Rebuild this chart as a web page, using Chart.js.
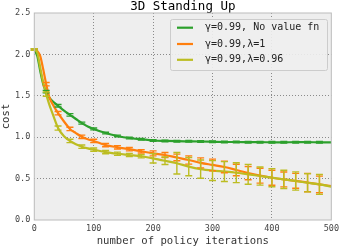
<!DOCTYPE html>
<html>
<head>
<meta charset="utf-8">
<script src="https://cdn.jsdelivr.net/npm/chart.js@4/dist/chart.umd.min.js"></script>
<style>
html,body{margin:0;padding:0;background:#fff;}
#wrap{width:343px;height:248px;position:relative;}
</style>
</head>
<body>
<div id="wrap"><canvas id="c" width="343" height="248"></canvas></div>
<script>
const titleText = "3D Standing Up";
const xLabel = "number of policy iterations";
const yLabel = "cost";
const seriesLabels = ["\u03b3=0.99, No value fn", "\u03b3=0.99,\u03bb=1", "\u03b3=0.99,\u03bb=0.96"];
const seriesColors = ["#2ca02c", "#ff7f0e", "#bcbd22"];

const iters = [0,5,10,15,20,25,30,40,50,60,70,80,90,100,120,140,160,180,200,220,240,260,280,300,320,340,360,380,400,420,440,460,480,500];
const noValueFn = [2.06,1.98,1.80,1.64,1.55,1.48,1.44,1.38,1.32,1.27,1.22,1.17,1.13,1.10,1.05,1.015,0.99,0.975,0.96,0.955,0.952,0.95,0.948,0.945,0.942,0.942,0.94,0.94,0.938,0.938,0.94,0.94,0.938,0.938];
const lambda1 = [2.06,2.04,1.98,1.82,1.64,1.49,1.41,1.29,1.19,1.10,1.05,1.005,0.975,0.955,0.905,0.878,0.855,0.83,0.805,0.785,0.755,0.725,0.69,0.665,0.64,0.604,0.566,0.535,0.51,0.49,0.473,0.452,0.43,0.41];
const lambda096 = [2.06,2.02,1.84,1.66,1.52,1.40,1.30,1.11,1.01,0.955,0.915,0.885,0.865,0.85,0.82,0.80,0.785,0.77,0.745,0.716,0.685,0.645,0.615,0.597,0.585,0.571,0.552,0.531,0.511,0.49,0.471,0.45,0.43,0.402];

const errIters = [0,20,40,60,80,100,120,140,160,180,200,220,240,260,280,300,320,340,360,380,400,420,440,460,480];
const errNoValueFn = [0.01,0.015,0.015,0.015,0.012,0.012,0.01,0.01,0.01,0.01,0.01,0.01,0.01,0.01,0.01,0.01,0.01,0.01,0.01,0.01,0.01,0.01,0.01,0.01,0.01];
const errLambda1 = [0.01,0.02,0.02,0.02,0.02,0.02,0.02,0.02,0.02,0.02,0.03,0.03,0.04,0.05,0.06,0.07,0.07,0.07,0.08,0.09,0.09,0.09,0.09,0.11,0.1];
const errLambda096 = [0.01,0.025,0.025,0.02,0.02,0.02,0.02,0.02,0.02,0.02,0.057,0.045,0.13,0.11,0.11,0.12,0.12,0.12,0.12,0.11,0.11,0.11,0.11,0.11,0.12];

const xTicksMax = 500, yTicksMax = 2.5;

const series = [noValueFn, lambda1, lambda096];
const errs = [errNoValueFn, errLambda1, errLambda096];

const mono = "'DejaVu Sans Mono', monospace";

const bgPlugin = {
  id: 'bg',
  beforeDraw(chart) {
    const a = chart.chartArea, ctx = chart.ctx;
    ctx.save();
    ctx.fillStyle = '#eeeeee';
    ctx.fillRect(a.left, a.top, a.right - a.left, a.bottom - a.top);
    ctx.restore();
  },
  afterDraw(chart) {
    const a = chart.chartArea, ctx = chart.ctx;
    ctx.save();
    ctx.strokeStyle = '#bcbcbc';
    ctx.lineWidth = 1;
    ctx.strokeRect(a.left, a.top, a.right - a.left, a.bottom - a.top);
    // legend
    const bx = 170.5, by = 19.5, bw = 157, bh = 51;
    ctx.beginPath();
    ctx.roundRect(bx, by, bw, bh, 2);
    ctx.fillStyle = 'rgba(238,238,238,0.9)';
    ctx.fill();
    ctx.strokeStyle = '#cccccc';
    ctx.stroke();
    const rows = [27.7, 44, 59.8];
    chart.data.datasets.forEach((ds, i) => {
      ctx.beginPath();
      ctx.strokeStyle = ds.borderColor;
      ctx.lineWidth = 2.2;
      ctx.moveTo(177, rows[i]);
      ctx.lineTo(193, rows[i]);
      ctx.stroke();
      ctx.fillStyle = '#222';
      ctx.font = "10px " + mono;
      ctx.textBaseline = 'middle';
      ctx.textAlign = 'left';
      ctx.fillText(ds.label, 205, rows[i]);
    });
    ctx.restore();
  },
  afterDatasetsDraw(chart) {
    const ctx = chart.ctx, xs = chart.scales.x, ys = chart.scales.y;
    ctx.save();
    [0, 1, 2].forEach(i => {
      const vals = series[i], e = errs[i];
      ctx.strokeStyle = seriesColors[i];
      ctx.lineWidth = 1.4;
      errIters.forEach((it, k) => {
        const idx = iters.indexOf(it);
        const v = vals[idx];
        const px = xs.getPixelForValue(it);
        const y1 = ys.getPixelForValue(v - e[k]);
        const y2 = ys.getPixelForValue(v + e[k]);
        ctx.beginPath();
        ctx.moveTo(px, y1); ctx.lineTo(px, y2);
        ctx.moveTo(px - 3.5, y1); ctx.lineTo(px + 3.5, y1);
        ctx.moveTo(px - 3.5, y2); ctx.lineTo(px + 3.5, y2);
        ctx.stroke();
      });
    });
    ctx.restore();
  }
};

const datasets = series.map((vals, i) => ({
  label: seriesLabels[i],
  data: iters.map((x, k) => ({x: x, y: vals[k]})),
  borderColor: seriesColors[i],
  backgroundColor: seriesColors[i],
  borderWidth: 2.2,
  pointRadius: 0,
  cubicInterpolationMode: 'monotone',
  order: 2 - i
}));

const gridColor = (ctx) => {
  const v = ctx.tick ? ctx.tick.value : null;
  return (v === 0 || v === xTicksMax || v === yTicksMax) ? 'rgba(0,0,0,0)' : '#8a8a8a';
};

new Chart(document.getElementById('c'), {
  type: 'line',
  data: { datasets },
  plugins: [bgPlugin],
  options: {
    responsive: false,
    animation: false,
    devicePixelRatio: 1,
    layout: { padding: { left: 0, right: 9.7, top: 0, bottom: 0 } },
    plugins: {
      legend: { display: false },
      tooltip: { enabled: false },
      title: {
        display: true,
        text: titleText,
        fullSize: false,
        color: '#000',
        font: { family: mono, size: 12.5, weight: 'normal', lineHeight: 1.0 },
        padding: { top: 0, bottom: 0.5 }
      }
    },
    scales: {
      x: {
        type: 'linear',
        min: 0, max: xTicksMax,
        ticks: { stepSize: 100, color: '#444', font: { family: mono, size: 8.5 }, padding: 4, maxRotation: 0 },
        grid: { color: gridColor, drawTicks: false, lineWidth: 1 },
        border: { display: false, dash: [1, 2] },
        title: { display: true, text: xLabel, color: '#333', font: { family: mono, size: 10.6 }, padding: 0 },
        afterFit(s) { s.height = 28; }
      },
      y: {
        type: 'linear',
        min: 0, max: yTicksMax,
        ticks: { stepSize: 0.5, color: '#444', font: { family: mono, size: 8.5 }, padding: 4, callback: v => v.toFixed(1) },
        grid: { color: gridColor, drawTicks: false, lineWidth: 1 },
        border: { display: false, dash: [1, 2] },
        title: { display: true, text: yLabel, color: '#333', font: { family: mono, size: 10.6 }, padding: 0 },
        afterFit(s) { s.width = 34.3; }
      }
    }
  }
});
</script>
</body>
</html>
